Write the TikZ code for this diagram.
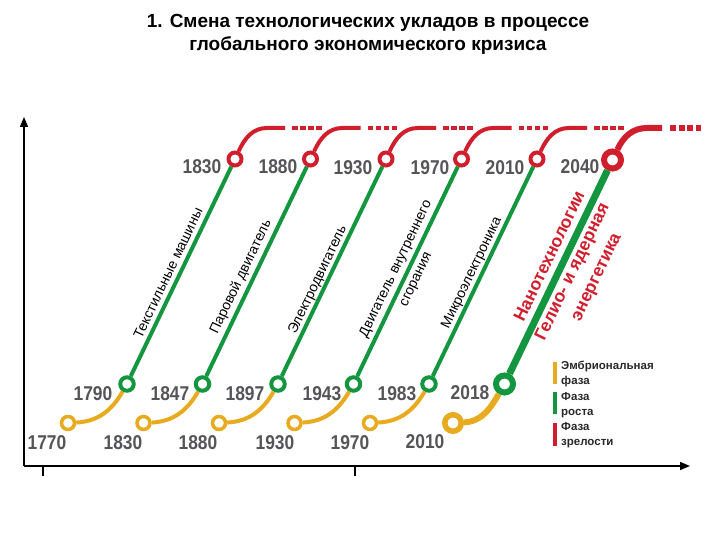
\documentclass[tikz,border=0pt]{standalone}
\usepackage{fontspec}
\setmainfont{Liberation Sans}
\newfontfamily\yearfont{Liberation Sans}[FakeStretch=0.87]
\usetikzlibrary{arrows.meta}
\definecolor{ylw}{RGB}{232,170,30}
\definecolor{grn}{RGB}{20,150,65}
\definecolor{rd}{RGB}{208,30,45}
\definecolor{yeargray}{RGB}{85,85,88}
\definecolor{legtext}{RGB}{40,40,40}
\begin{document}
\begin{tikzpicture}[x=1pt,y=1pt,
  ycirc/.style={circle,draw=ylw,line width=3.5pt,fill=white,minimum size=13pt,inner sep=0pt},
  gcirc/.style={circle,draw=grn,line width=4pt,fill=white,minimum size=13.5pt,inner sep=0pt},
  rcirc/.style={circle,draw=rd,line width=4pt,fill=white,minimum size=13pt,inner sep=0pt},
  bigc/.style={line width=6pt,minimum size=17pt},
  yline/.style={draw=ylw,line width=4pt},
  gline/.style={draw=grn,line width=4pt},
  rline/.style={draw=rd,line width=4pt},
  rdots/.style={draw=rd,line width=4pt,dash pattern=on 5.5pt off 2.5pt},
  year/.style={font=\yearfont\bfseries\fontsize{20}{20}\selectfont,text=yeargray,inner sep=0pt},
  tech/.style={font=\fontsize{14}{14}\selectfont,rotate=64.4,inner sep=0pt},
  redtech/.style={font=\bfseries\fontsize{17.5}{17.5}\selectfont,text=rd,rotate=64.4,inner sep=0pt},
  legend/.style={font=\bfseries\fontsize{11.5}{15}\selectfont,text=legtext,align=left,anchor=west,inner sep=0pt},
  axis/.style={draw=black,line width=1.5pt}
]
\useasboundingbox (0,0) rectangle (720,540);

% title
\node[font=\bfseries\fontsize{19}{23}\selectfont,align=center] (title) at (368,506)
  {1. Смена технологических укладов в процессе\\глобального экономического кризиса};

% axes
\coordinate (origin) at (24,74);
\coordinate (ytop) at (24,423);
\coordinate (xend) at (690,74);
\draw[axis,-{Triangle[length=10pt,width=8pt]}] (origin) -- (ytop);
\draw[axis,-{Triangle[length=10pt,width=8pt]}] (origin) -- (xend);
\coordinate (t1a) at (43,74); \coordinate (t1b) at (43,64);
\coordinate (t2a) at (355,74); \coordinate (t2b) at (355,64);
\draw[axis] (t1a) -- (t1b);
\draw[axis] (t2a) -- (t2b);

% regular units
\foreach \i/\yx/\gx/\rx in {1/68/127/235, 2/143.5/202.5/310.5, 3/219/278/386, 4/294.5/353.5/461.5, 5/370/429/537}{
  \node[ycirc] (y\i) at (\yx,117) {};
  \node[gcirc] (g\i) at (\gx,156) {};
  \node[rcirc] (r\i) at (\rx,381) {};
  \coordinate (h\i a) at ({\rx+32},412);
  \coordinate (h\i b) at ({\rx+50},412);
  \coordinate (d\i a) at ({\rx+57},412);
  \coordinate (d\i b) at ({\rx+88},412);
  \draw[yline] (y\i) to[out=3,in=240] (g\i);
  \draw[gline] (g\i) -- (r\i);
  \draw[rline] (r\i) to[out=65,in=180] (h\i a) -- (h\i b);
  \draw[rdots] (d\i a) -- (d\i b);
}

% last unit
\node[ycirc,bigc,minimum size=16.5pt,line width=5.5pt] (y6) at (453,117) {};
\node[gcirc,bigc] (g6) at (504.5,156) {};
\node[rcirc,bigc] (r6) at (612.5,380) {};
\coordinate (h6a) at (647,412);
\coordinate (h6b) at (662,412);
\coordinate (d6a) at (670,412);
\coordinate (d6b) at (701,412);
\draw[yline,line width=6pt] (y6) to[out=3,in=240] (g6);
\draw[gline,line width=7pt] (g6) -- (r6);
\draw[rline,line width=6pt] (r6) to[out=65,in=180] (h6a) -- (h6b);
\draw[rdots,line width=6pt,dash pattern=on 6pt off 2.5pt] (d6a) -- (d6b);

% years bottom
\node[year] (yb1) at (47,97) {1770};
\node[year] (yb2) at (123,97) {1830};
\node[year] (yb3) at (198,97) {1880};
\node[year] (yb4) at (275,97) {1930};
\node[year] (yb5) at (350,97) {1970};
\node[year] (yb6) at (425,98) {2010};
% years middle
\node[year] (ym1) at (93,146) {1790};
\node[year] (ym2) at (170,146) {1847};
\node[year] (ym3) at (245,146) {1897};
\node[year] (ym4) at (322,146) {1943};
\node[year] (ym5) at (397,146) {1983};
\node[year] (ym6) at (470,147) {2018};
% years top
\node[year] (yt1) at (202,373) {1830};
\node[year] (yt2) at (278,373) {1880};
\node[year] (yt3) at (353,372) {1930};
\node[year] (yt4) at (430,372) {1970};
\node[year] (yt5) at (505,372) {2010};
\node[year] (yt6) at (580,373) {2040};

% technology labels
\node[tech] (tx1) at (168,267) {Текстильные машины};
\node[tech] (tx2) at (241,263) {Паровой двигатель};
\node[tech] (tx3) at (318,260) {Электродвигатель};
\node[tech] (tx4a) at (396,271) {Двигатель внутреннего};
\node[tech] (tx4b) at (417,260) {сгорания};
\node[tech] (tx5) at (472,267) {Микроэлектроника};
\node[redtech] (tx6a) at (549,284) {Нанотехнологии};
\node[redtech] (tx6b) at (573,268) {Гелио- и ядерная};
\node[redtech] (tx6c) at (598,262) {энергетика};

% legend
\fill[ylw] (553,156) rectangle (557,178);
\fill[grn] (553,126) rectangle (557,148);
\fill[rd] (553,94) rectangle (557,117);
\node[legend] (l1) at (561,166.5) {Эмбриональная\\фаза};
\node[legend] (l2) at (561,135) {Фаза\\роста};
\node[legend] (l3) at (561,104.5) {Фаза\\зрелости};
\end{tikzpicture}
\end{document}
